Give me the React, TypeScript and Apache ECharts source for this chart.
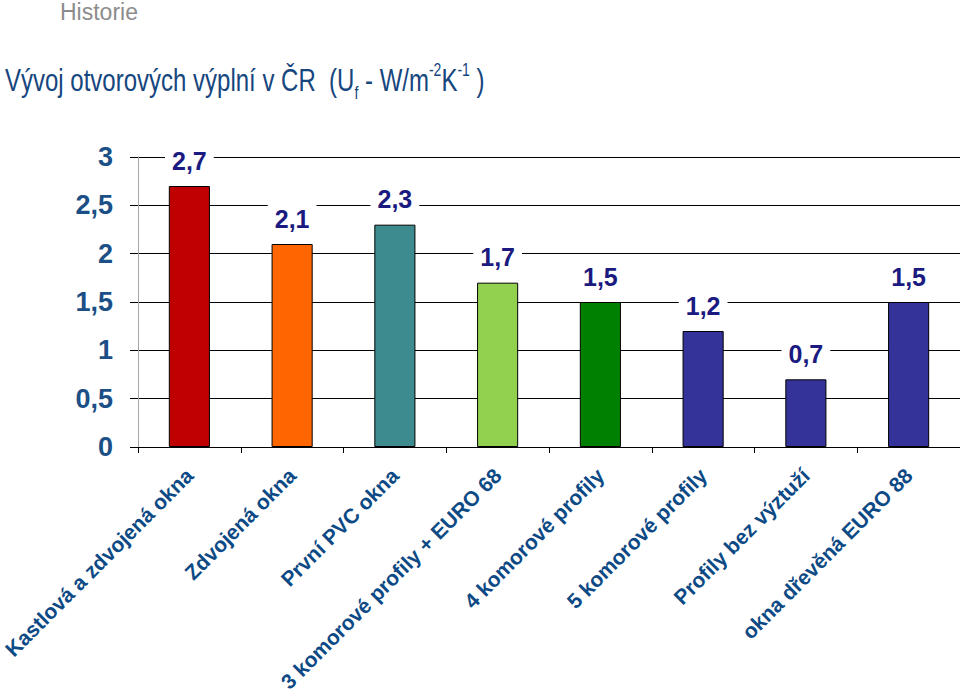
import React, { useEffect, useRef } from "react";
import * as echarts from "echarts";

const categories = [
  "Kastlová a zdvojená okna",
  "Zdvojená okna",
  "První PVC okna",
  "3 komorové profily + EURO 68",
  "4 komorové profily",
  "5 komorové profily",
  "Profily bez výztuží",
  "okna dřevěná EURO 88",
];
const values = [2.7, 2.1, 2.3, 1.7, 1.5, 1.2, 0.7, 1.5];
const barColors = ["#C00000", "#FF6600", "#3D8B8F", "#92D050", "#008000", "#333399", "#333399", "#333399"];

const fmt = (v: number) => String(v).replace(".", ",");
const FONT = "Liberation Sans, Arial, sans-serif";

export default function App() {
  const ref = useRef<HTMLDivElement>(null);
  useEffect(() => {
    const chart = echarts.init(ref.current!, null, { renderer: "svg" });
    chart.setOption({
      animation: false,
      backgroundColor: "#ffffff",
      textStyle: { fontFamily: FONT },
      graphic: [
        {
          type: "text",
          x: 60,
          y: 0,
          style: { text: "Historie", fontSize: 23, fill: "#8C8C8C", fontFamily: FONT },
        },
        {
          type: "text",
          x: 5,
          y: 60,
          scaleY: 1.3,
          style: {
            text: "{n|Vývoj otvorových výplní v ČR  (U}{sub|f}{n| - W/m}{sup|-2}{n|K}{sup|-1}{n| )}",
            fill: "#16467E",
            fontFamily: FONT,
            rich: {
              n: { fontSize: 24, lineHeight: 32, fill: "#16467E", verticalAlign: "middle", fontFamily: FONT },
              sub: { fontSize: 14, lineHeight: 14, fill: "#16467E", verticalAlign: "bottom", fontFamily: FONT },
              sup: { fontSize: 14, lineHeight: 14, fill: "#16467E", verticalAlign: "top", fontFamily: FONT },
            },
          },
        },
      ],
      grid: { left: 138, right: 0, top: 157, bottom: 245, containLabel: false, outerBoundsMode: "none" },
      xAxis: {
        type: "category",
        data: categories,
        axisLine: { show: true, lineStyle: { color: "#000000", width: 1 } },
        axisTick: { show: true, length: 6, lineStyle: { color: "#000000" } },
        axisLabel: {
          rotate: 45,
          interval: 0,
          margin: 25,
          fontSize: 21,
          fontWeight: "bold",
          color: "#0D4A85",
          fontFamily: FONT,
        },
      },
      yAxis: {
        type: "value",
        min: 0,
        max: 3,
        interval: 0.5,
        axisLine: { show: true, lineStyle: { color: "#A6A6A6", width: 1 } },
        axisTick: { show: true, length: 8, lineStyle: { color: "#000000" } },
        splitLine: { show: true, lineStyle: { color: "#000000", width: 1 } },
        axisLabel: {
          margin: 25,
          fontSize: 27,
          fontWeight: "bold",
          color: "#1B4F85",
          formatter: (v: number) => fmt(v),
          fontFamily: FONT,
        },
      },
      series: [
        {
          type: "bar",
          data: values.map((v, i) => ({
            value: v,
            itemStyle: { color: barColors[i], borderColor: "#000000", borderWidth: 1 },
          })),
          barWidth: "40%",
          label: {
            show: true,
            position: "top",
            distance: 12,
            formatter: (p: any) => fmt(p.value),
            fontSize: 25,
            fontWeight: "bold",
            color: "#1A1A80",
            backgroundColor: "#ffffff",
            padding: [1, 7, 1, 7],
            fontFamily: FONT,
          },
        },
      ],
    });
    return () => chart.dispose();
  }, []);
  return <div ref={ref} style={{ width: 960, height: 692, position: "absolute", left: 0, top: 0 }} />;
}
